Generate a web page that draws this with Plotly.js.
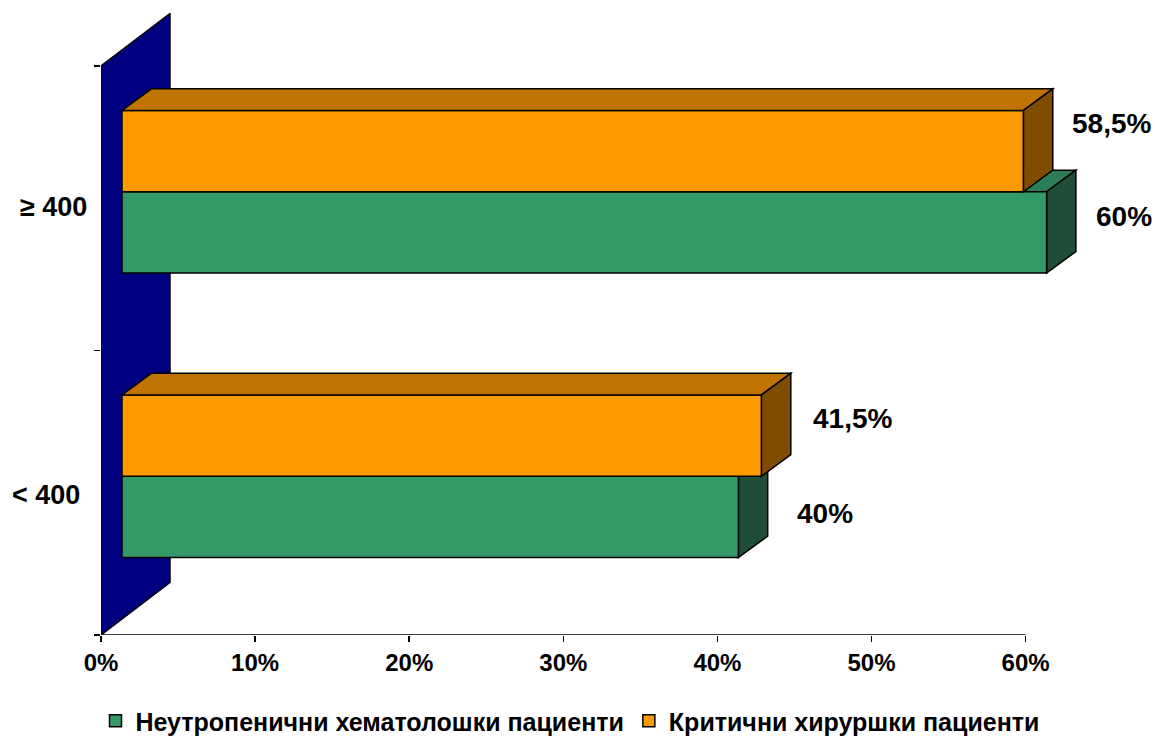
<!DOCTYPE html>
<html>
<head>
<meta charset="utf-8">
<script src="https://cdn.plot.ly/plotly-3.0.1.min.js"></script>
<style>
  html, body { margin: 0; padding: 0; background: #ffffff; }
  #chart { width: 1155px; height: 738px; }
</style>
</head>
<body>
<div id="chart"></div>
<script>
// Category labels (bottom to top) and series values, in percent
const categories = ['< 400', '≥ 400'];
const hematologyName = 'Неутропенични хематолошки пациенти';
const surgicalName = 'Критични хируршки пациенти';
const hematology = [40, 60];
const surgical = [41.5, 58.5];
const xTickValues = [0, 10, 20, 30, 40, 50, 60];
const xTickLabels = ['0%', '10%', '20%', '30%', '40%', '50%', '60%'];

// ---- drawing setup ----
const FONT = 'Liberation Sans, Arial, sans-serif';
const W = 1155, H = 738;
const M = { l: 101, r: 5, t: 13, b: 103 };
const pxPerUnitX = 15.41;          // pixels per percent point
const pxPerUnitY = 284.5;          // pixels per category
const plotW = W - M.l - M.r, plotH = H - M.t - M.b;
const xMax = plotW / pxPerUnitX;
const yMin = -0.5, yMax = yMin + plotH / pxPerUnitY;

// bars sit a little behind the front edge of the floor
const barShift = 21 / pxPerUnitX;
// 3-D depth of bars and of the side wall, in axis units
const depthX = 29.3 / pxPerUnitX, depthY = 21.6 / pxPerUnitY;
const wallX = 69 / pxPerUnitX, wallY = 52.5 / pxPerUnitY;

const barWidth = 0.286;
const style = {
  hem:  { front: '#339966', top: '#2c7d55', side: '#1f4d37', offset: -0.228 },
  surg: { front: '#ff9900', top: '#c07300', side: '#7f4c00', offset: 0.058 }
};
const yPos = categories.map((c, i) => i);

const traces = [
  {
    type: 'bar', orientation: 'h', name: hematologyName,
    x: hematology, y: yPos, xaxis: 'x2', yaxis: 'y',
    width: barWidth, offset: style.hem.offset,
    marker: { color: style.hem.front, line: { color: '#000000', width: 1.5 } },
    hoverinfo: 'x'
  },
  {
    type: 'bar', orientation: 'h', name: surgicalName,
    x: surgical, y: yPos, xaxis: 'x2', yaxis: 'y',
    width: barWidth, offset: style.surg.offset,
    marker: { color: style.surg.front, line: { color: '#000000', width: 1.5 } },
    hoverinfo: 'x'
  }
];

const shapes = [];
// left wall
shapes.push({
  type: 'path', xref: 'x', yref: 'y', layer: 'below',
  path: `M 0,${yMin} L 0,1.5 L ${wallX},${1.5 + wallY} L ${wallX},${yMin + wallY} Z`,
  fillcolor: '#000080', line: { color: '#000000', width: 1.5 }
});

function faces(values, st, layer) {
  values.forEach((v, i) => {
    const yb = i + st.offset, yt = yb + barWidth;
    shapes.push({
      type: 'path', xref: 'x2', yref: 'y', layer: layer,
      path: `M 0,${yt} L ${v},${yt} L ${v + depthX},${yt + depthY} L ${depthX},${yt + depthY} Z`,
      fillcolor: st.top, line: { color: '#000000', width: 1.5 }
    });
    shapes.push({
      type: 'path', xref: 'x2', yref: 'y', layer: layer,
      path: `M ${v},${yb} L ${v},${yt} L ${v + depthX},${yt + depthY} L ${v + depthX},${yb + depthY} Z`,
      fillcolor: st.side, line: { color: '#000000', width: 1.5 }
    });
  });
}
faces(hematology, style.hem, 'below');
faces(surgical, style.surg, 'above');

// x axis line, from 0% to the last tick
shapes.push({
  type: 'line', xref: 'x', yref: 'y', layer: 'above',
  x0: 0, x1: xTickValues[xTickValues.length - 1], y0: yMin, y1: yMin,
  line: { color: '#000000', width: 1.5 }
});

const fmt = v => String(v).replace('.', ',') + '%';
const annotations = [];
// value labels
const labelNudge = {
  hem:  [{ dx: 57, dy: 3 }, { dx: 47, dy: 16 }],
  surg: [{ dx: 49, dy: 17 }, { dx: 47, dy: 28 }]
};
function valueLabels(values, st, nudges) {
  values.forEach((v, i) => {
    annotations.push({
      xref: 'x2', yref: 'y', x: v, y: i + st.offset + barWidth / 2,
      text: fmt(v), showarrow: false, xanchor: 'left', yanchor: 'middle',
      xshift: nudges[i].dx, yshift: nudges[i].dy,
      font: { family: FONT, size: 28, color: '#000000', weight: 'bold' }
    });
  });
}
valueLabels(hematology, style.hem, labelNudge.hem);
valueLabels(surgical, style.surg, labelNudge.surg);

// category labels
const catShift = [{ dx: -19, dy: -2 }, { dx: -12, dy: 1 }];
categories.forEach((c, i) => {
  annotations.push({
    xref: 'x', yref: 'y', x: 0, y: i, text: c, showarrow: false,
    xanchor: 'right', yanchor: 'middle', xshift: catShift[i].dx, yshift: catShift[i].dy,
    font: { family: FONT, size: 27, color: '#000000', weight: 'bold' }
  });
});

const layout = {
  width: W, height: H,
  margin: M,
  paper_bgcolor: '#ffffff', plot_bgcolor: 'rgba(0,0,0,0)',
  barmode: 'overlay',
  showlegend: true,
  font: { family: FONT, color: '#000000' },
  xaxis: {
    range: [0, xMax], tickvals: xTickValues, ticktext: xTickLabels,
    ticks: 'outside', ticklen: 6, tickwidth: 1.5, tickcolor: '#000000',
    showline: false, showgrid: false, zeroline: false,
    tickfont: { family: FONT, size: 24, color: '#000000', weight: 'bold' },
    fixedrange: true
  },
  xaxis2: {
    overlaying: 'x', range: [-barShift, xMax - barShift], visible: false, fixedrange: true
  },
  yaxis: {
    range: [yMin, yMax], tickvals: [-0.5, 0.5, 1.5], showticklabels: false,
    ticks: 'outside', ticklen: 6, tickwidth: 1.5, tickcolor: '#000000',
    showline: false, showgrid: false, zeroline: false, fixedrange: true
  },
  legend: {
    orientation: 'h', xref: 'container', yref: 'container',
    x: 0.4935, xanchor: 'center', y: 0.023, yanchor: 'middle',
    font: { family: FONT, size: 25, color: '#000000', weight: 'bold' },
    itemwidth: 30, bgcolor: 'rgba(0,0,0,0)', traceorder: 'normal'
  },
  shapes: shapes,
  annotations: annotations
};

Plotly.newPlot('chart', traces, layout, { displayModeBar: false, staticPlot: true });
</script>
</body>
</html>
